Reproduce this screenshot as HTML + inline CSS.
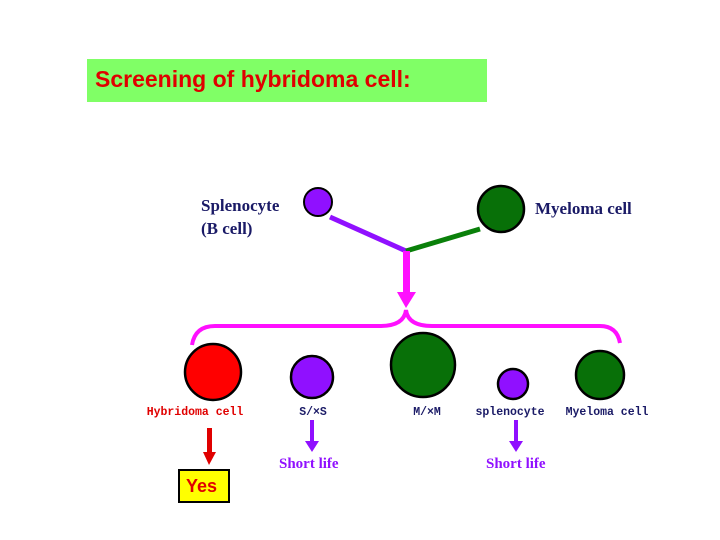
<!DOCTYPE html>
<html><head><style>
body{margin:0;width:720px;height:540px;background:#fff;position:relative;overflow:hidden;font-family:"Liberation Serif",serif}
.t{position:absolute;white-space:nowrap}
.m{font-family:"Liberation Mono",monospace;font-weight:bold;font-size:11.5px;transform:translateX(-50%)}
</style></head><body>
<div class="t" style="left:87px;top:59px;width:400px;height:43px;background:#80ff66;"></div>
<div class="t" style="left:95px;top:66px;font-family:'Liberation Sans',sans-serif;font-weight:bold;font-size:23px;color:#e00000">Screening of hybridoma cell:</div>
<div class="t" style="left:201px;top:194px;font-size:17px;font-weight:bold;color:#1a1a66;line-height:23px">Splenocyte<br>(B cell)</div>
<div class="t" style="left:535px;top:199px;font-size:17px;font-weight:bold;color:#1a1a66">Myeloma cell</div>
<svg width="720" height="540" style="position:absolute;left:0;top:0">
<line x1="330" y1="217" x2="406" y2="251" stroke="#9010ff" stroke-width="5"/>
<line x1="406" y1="251" x2="480" y2="229" stroke="#0a800a" stroke-width="5"/>
<circle cx="318" cy="202" r="14" fill="#9010ff" stroke="#000" stroke-width="2"/>
<circle cx="501" cy="209" r="23" fill="#087008" stroke="#000" stroke-width="2.5"/>
<rect x="403" y="251" width="7" height="42" fill="#ff10ff"/>
<polygon points="397,292 416,292 406,308" fill="#ff10ff"/>
<path d="M192,345 Q195,326 215,326 L380,326 Q404,326 406,310 Q408,326 432,326 L600,326 Q617,326 620,343" fill="none" stroke="#ff10ff" stroke-width="4"/>
<circle cx="213" cy="372" r="28" fill="#ff0000" stroke="#000" stroke-width="2.5"/>
<circle cx="312" cy="377" r="21" fill="#9010ff" stroke="#000" stroke-width="2.5"/>
<circle cx="423" cy="365" r="32" fill="#087008" stroke="#000" stroke-width="2.5"/>
<circle cx="513" cy="384" r="15" fill="#9010ff" stroke="#000" stroke-width="2.5"/>
<circle cx="600" cy="375" r="24" fill="#087008" stroke="#000" stroke-width="2.5"/>
<rect x="207" y="428" width="5" height="26" fill="#e00000"/><polygon points="203,452 216,452 209,465" fill="#e00000"/>
<rect x="310" y="420" width="4" height="22" fill="#9010ff"/><polygon points="305,441 319,441 312,452" fill="#9010ff"/>
<rect x="514" y="420" width="4" height="22" fill="#9010ff"/><polygon points="509,441 523,441 516,452" fill="#9010ff"/>
<rect x="179" y="470" width="50" height="32" fill="#ffff00" stroke="#000" stroke-width="2"/>
</svg>
<div class="t m" style="left:195px;top:406px;color:#e00000">Hybridoma cell</div>
<div class="t m" style="left:313px;top:406px;color:#1a1a66">S/×S</div>
<div class="t m" style="left:427px;top:406px;color:#1a1a66">M/×M</div>
<div class="t m" style="left:510px;top:406px;color:#1a1a66">splenocyte</div>
<div class="t m" style="left:607px;top:406px;color:#1a1a66">Myeloma cell</div>
<div class="t" style="left:279px;top:456px;font-size:15px;font-weight:bold;color:#9010ff">Short life</div>
<div class="t" style="left:486px;top:456px;font-size:15px;font-weight:bold;color:#9010ff">Short life</div>
<div class="t" style="left:186px;top:476px;font-family:'Liberation Sans',sans-serif;font-weight:bold;font-size:18px;color:#e00000">Yes</div>
</body></html>
